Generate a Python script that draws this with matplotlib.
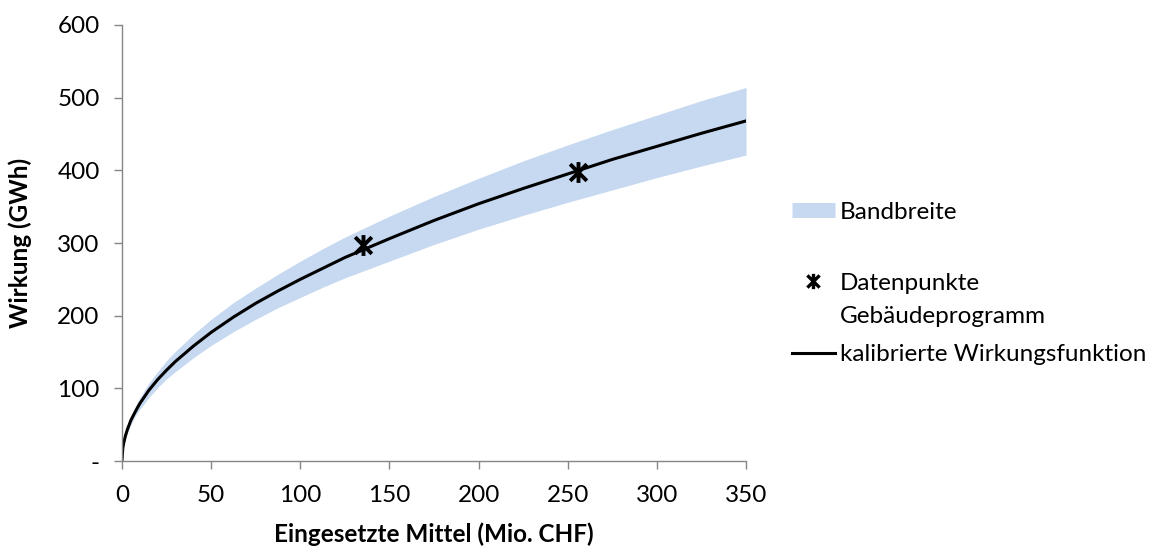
import numpy as np
import matplotlib
matplotlib.use("Agg")
import matplotlib.pyplot as plt
from matplotlib.path import Path
from matplotlib.lines import Line2D
from matplotlib.legend_handler import HandlerLine2D

plt.rcParams['font.family'] = ['Lato', 'DejaVu Sans']

# Werte
mittel = [0, 0.5, 1, 2, 3, 5, 7.5, 10, 15, 20, 25, 30, 40, 50, 62.5, 75, 87.5,
          100, 112.5, 125, 150, 175, 200, 225, 250, 275, 300, 325, 350]
wirkung = [0, 18, 25, 35, 43, 56, 68, 79, 97, 112, 125, 137, 158, 177, 198,
           217, 234, 250, 265, 280, 306, 331, 354, 375, 395, 415, 433, 451,
           468]
band_unten = [0, 16, 23, 32, 39, 50, 62, 71, 87, 101, 113, 123, 142, 159, 178,
              195, 211, 225, 239, 252, 275, 298, 319, 338, 356, 373, 390, 406,
              421]
band_oben = [0, 20, 28, 39, 47, 61, 75, 87, 107, 123, 138, 151, 174, 195, 218,
             238, 257, 275, 292, 308, 337, 364, 389, 413, 435, 456, 476, 496,
             514]

punkte_x = [135, 256]
punkte_y = [297, 398]

y_ticks = [0, 100, 200, 300, 400, 500, 600]
y_ticklabels = ['-', '100', '200', '300', '400', '500', '600']
x_ticks = [0, 50, 100, 150, 200, 250, 300, 350]

blau = '#C6D9F1'
grau = '#868686'
fs = 17.5

# Stern-Marker wie in Excel (X mit senkrechtem Strich)
stern = Path([(-1, -1), (1, 1), (-1, 1), (1, -1), (0, -1.25), (0, 1.25)],
             [Path.MOVETO, Path.LINETO, Path.MOVETO, Path.LINETO,
              Path.MOVETO, Path.LINETO])

fig = plt.figure(figsize=(11.57, 5.47), dpi=100)
ax = fig.add_axes([0.1054, 0.1572, 0.5394, 0.7971])

ax.fill_between(mittel, band_unten, band_oben, color=blau, linewidth=0)
ax.plot(mittel, wirkung, color='black', linewidth=2.2)
ax.plot(punkte_x, punkte_y, linestyle='none', marker=stern, markersize=15,
        markeredgewidth=2.8, color='black')

ax.set_xlim(0, 350)
ax.set_ylim(0, 600)
ax.set_xticks(x_ticks)
ax.set_yticks(y_ticks)
ax.set_yticklabels(y_ticklabels)

for s in ['top', 'right']:
    ax.spines[s].set_visible(False)
for s in ['left', 'bottom']:
    ax.spines[s].set_color(grau)
    ax.spines[s].set_linewidth(1.0)
ax.tick_params(axis='both', direction='out', length=6, width=1.0, color=grau,
               labelsize=fs, labelcolor='black')
ax.tick_params(axis='y', pad=10)
ax.tick_params(axis='x', pad=11)

ax.set_xlabel('Eingesetzte Mittel (Mio. CHF)', fontsize=fs, fontweight='bold',
              labelpad=12)
ax.set_ylabel('Wirkung (GWh)', fontsize=fs, fontweight='bold', labelpad=18)


class HandlerOben(HandlerLine2D):
    # Symbol auf die erste Zeile eines zweizeiligen Eintrags setzen
    def create_artists(self, legend, orig_handle, xdescent, ydescent, width,
                       height, fontsize, trans):
        arts = super().create_artists(legend, orig_handle, xdescent, ydescent,
                                      width, height, fontsize, trans)
        for a in arts:
            a.set_ydata(np.asarray(a.get_ydata()) + 0.8 * fontsize)
        return arts


h_band = Line2D([], [], color=blau, linewidth=10.8, solid_capstyle='butt')
h_punkt = Line2D([], [], linestyle='none', marker=stern, markersize=11,
                 markeredgewidth=2.4, color='black')
h_linie = Line2D([], [], color='black', linewidth=2.2)

leg = fig.legend([h_band, h_punkt, h_linie],
                 ['Bandbreite\n', 'Datenpunkte\nGebäudeprogramm',
                  'kalibrierte Wirkungsfunktion'],
                 handler_map={h_band: HandlerOben(), h_punkt: HandlerOben()},
                 loc='center left', bbox_to_anchor=(0.676, 0.481),
                 frameon=False, fontsize=fs, handlelength=1.77,
                 handletextpad=0.2, labelspacing=0.7, borderaxespad=0)
for t in leg.get_texts():
    t.set_linespacing(1.7)

fig.savefig('out.png', dpi=100)
